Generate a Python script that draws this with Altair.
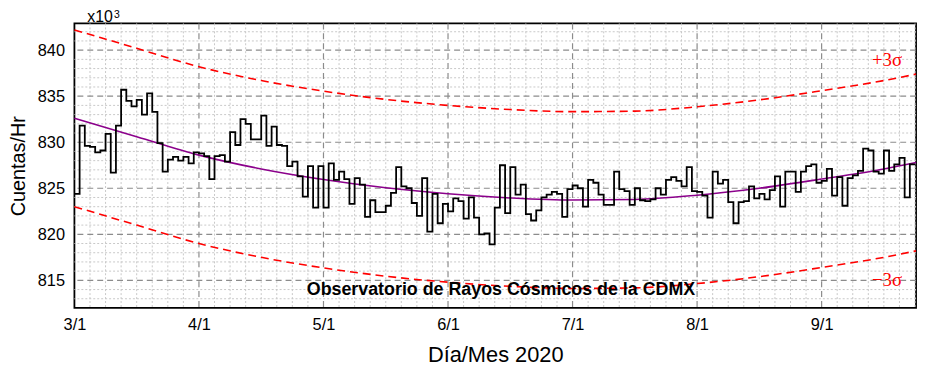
import altair as alt
import pandas as pd

# Daily-ish counts (x10^3 counts/hr), read step by step from the picture
counts = [
    824.4, 831.8, 829.6, 829.5, 828.9, 829.1, 830.9, 826.7, 831.8, 835.7,
    834.5, 833.9, 834.6, 833.0, 835.3, 833.3, 829.9, 826.8, 828.1, 828.4,
    828.0, 828.4, 827.7, 828.9, 828.8, 828.5, 826.0, 828.5, 828.6, 827.9,
    831.1, 829.7, 832.5, 832.0, 830.3, 830.3, 832.9, 829.6, 831.7, 829.7,
    829.6, 827.4, 827.9, 826.3, 824.1, 827.4, 822.9, 827.4, 822.9, 827.7,
    825.9, 826.8, 826.0, 823.3, 826.1, 825.4, 821.9, 823.7, 822.4, 822.4,
    823.1, 824.5, 827.3, 825.2, 825.0, 823.4, 822.0, 826.1, 820.3, 824.4,
    821.2, 823.3, 822.5, 823.9, 823.6, 821.7, 824.0, 821.8, 820.0, 820.1,
    818.9, 822.9, 827.5, 822.3, 827.3, 824.3, 825.4, 822.2, 821.5, 822.6,
    824.0, 824.3, 824.6, 824.4, 821.9, 824.9, 825.3, 825.0, 823.0, 825.9,
    825.6, 824.3, 823.2, 823.2, 826.8, 824.9, 824.7, 823.2, 825.0, 823.7,
    823.6, 823.8, 825.0, 824.3, 825.9, 826.2, 825.8, 825.2, 827.3, 824.7,
    824.6, 824.2, 821.8, 826.8, 825.5, 825.9, 823.5, 821.2, 823.5, 823.6,
    825.2, 823.9, 824.4, 823.8, 824.8, 826.3, 823.0, 826.8, 826.8, 824.6,
    826.8, 827.4, 827.6, 825.6, 825.8, 827.1, 824.2, 826.2, 823.1, 826.1,
    826.4, 826.9, 829.3, 829.1, 826.8, 826.6, 829.1, 826.9, 827.6, 828.3,
    824.0, 827.6,
]

# Fitted trend (purple) at sample positions (step index)
fit_pos = [0, 12, 24, 36, 48, 60, 72, 84, 96, 108, 120, 132, 144, 156, 162.2]
fit_val = [832.6, 830.6, 828.6, 827.1, 825.95, 825.05, 824.4, 823.95, 823.72,
           823.78, 824.25, 825.0, 826.0, 827.1, 827.8]
three_sigma = 9.6

month_labels = ["3/1", "4/1", "5/1", "6/1", "7/1", "8/1", "9/1"]
steps_per_month = 24
x_max = 162.2
y_min, y_max = 812.0, 842.9

major_x = [steps_per_month * i for i in range(len(month_labels))]
minor_x = [v for v in range(3, 163, 3) if v % steps_per_month != 0]
major_y = [815, 820, 825, 830, 835, 840]
minor_y = [v for v in range(813, 843) if v % 5 != 0]

n = len(counts)
df = pd.DataFrame({"k": list(range(n)) + [n], "v": counts + [counts[-1]]})
fit_df = pd.DataFrame({"k": fit_pos, "fit": fit_val})

xs = alt.Scale(domain=[0, x_max], nice=False, zero=False)
ys = alt.Scale(domain=[y_min, y_max], nice=False, zero=False)

label_expr = "[" + ",".join("'%s'" % m for m in month_labels) + "][round(datum.value/24)]"
x_axis = alt.Axis(values=major_x, labelExpr=label_expr, title="Día/Mes 2020",
                  grid=False, ticks=False, domain=False, labelFontSize=16.5,
                  labelPadding=9, labelFlush=False, titleFontSize=22,
                  titlePadding=12, titleFontWeight="normal",
                  labelFont="Liberation Sans", titleFont="Liberation Sans",
                  labelColor="black", titleColor="black")
y_axis = alt.Axis(values=major_y, title="Cuentas/Hr", grid=False, ticks=False,
                  domain=False, labelFontSize=16.5, labelPadding=10,
                  labelFlush=False, titleFontSize=20, titlePadding=9,
                  titleFontWeight="normal", labelFont="Liberation Sans",
                  titleFont="Liberation Sans", labelColor="black",
                  titleColor="black")


def X(field):
    return alt.X(field, scale=xs, axis=x_axis)


def Y(field):
    return alt.Y(field, scale=ys, axis=y_axis)


minor_x_rules = alt.Chart(pd.DataFrame({"x": minor_x})).mark_rule(
    color="#c8c8c8", strokeDash=[2, 2], strokeWidth=1
).encode(x=X("x:Q"))
minor_y_rules = alt.Chart(pd.DataFrame({"y": minor_y})).mark_rule(
    color="#c8c8c8", strokeDash=[2, 2], strokeWidth=1
).encode(y=Y("y:Q"))
major_x_rules = alt.Chart(pd.DataFrame({"x": major_x[1:]})).mark_rule(
    color="#8c8c8c", strokeDash=[6, 4], strokeWidth=1.2
).encode(x=X("x:Q"))
major_y_rules = alt.Chart(pd.DataFrame({"y": major_y})).mark_rule(
    color="#8c8c8c", strokeDash=[6, 4], strokeWidth=1.2
).encode(y=Y("y:Q"))

base_fit = alt.Chart(fit_df).transform_calculate(
    up="datum.fit + %f" % three_sigma, lo="datum.fit - %f" % three_sigma
)
upper = base_fit.mark_line(color="#ff0000", strokeDash=[8, 5], strokeWidth=1.6,
                           interpolate="monotone").encode(x=X("k:Q"), y=Y("up:Q"))
lower = base_fit.mark_line(color="#ff0000", strokeDash=[8, 5], strokeWidth=1.6,
                           interpolate="monotone").encode(x=X("k:Q"), y=Y("lo:Q"))
fit_line = base_fit.mark_line(color="#8b008b", strokeWidth=1.6,
                              interpolate="monotone").encode(x=X("k:Q"), y=Y("fit:Q"))

step_line = alt.Chart(df).mark_line(color="black", strokeWidth=1.8,
                                    interpolate="step-after", clip=True).encode(
    x=X("k:Q"), y=Y("v:Q"))

ann = pd.DataFrame({
    "k": [156.6, 156.6],
    "v": [838.95, 815.0],
    "t": ["+3σ", "\u22123σ"],
})
sigma_text = alt.Chart(ann).mark_text(color="#ff0000", fontSize=19,
                                      font="Liberation Serif").encode(
    x=X("k:Q"), y=Y("v:Q"), text="t:N")

title_df = pd.DataFrame({"k": [82.2], "v": [813.9],
                         "t": ["Observatorio de Rayos Cósmicos de la CDMX"]})
obs_text = alt.Chart(title_df).mark_text(color="black", fontSize=18,
                                         fontWeight="bold",
                                         font="Liberation Sans").encode(
    x=X("k:Q"), y=Y("v:Q"), text="t:N")

exp_text = alt.Chart(pd.DataFrame({"t": ["x10"]})).mark_text(
    color="black", fontSize=16, font="Liberation Sans", align="left",
    baseline="alphabetic"
).encode(x=alt.value(13), y=alt.value(-1), text="t:N")
exp_sup = alt.Chart(pd.DataFrame({"t": ["3"]})).mark_text(
    color="black", fontSize=10.5, font="Liberation Sans", align="left",
    baseline="alphabetic"
).encode(x=alt.value(40), y=alt.value(-5), text="t:N")

chart = alt.layer(
    minor_x_rules, minor_y_rules, major_x_rules, major_y_rules,
    upper, lower, fit_line, step_line, sigma_text, obs_text, exp_text, exp_sup,
).properties(
    width=849, height=287,
    autosize=alt.AutoSizeParams(type="none"),
    padding={"left": 67, "top": 14, "right": 7, "bottom": 62},
).configure_view(stroke="black", strokeWidth=1.8)

chart.save("out.html", embed_options={"renderer": "svg", "actions": False})
